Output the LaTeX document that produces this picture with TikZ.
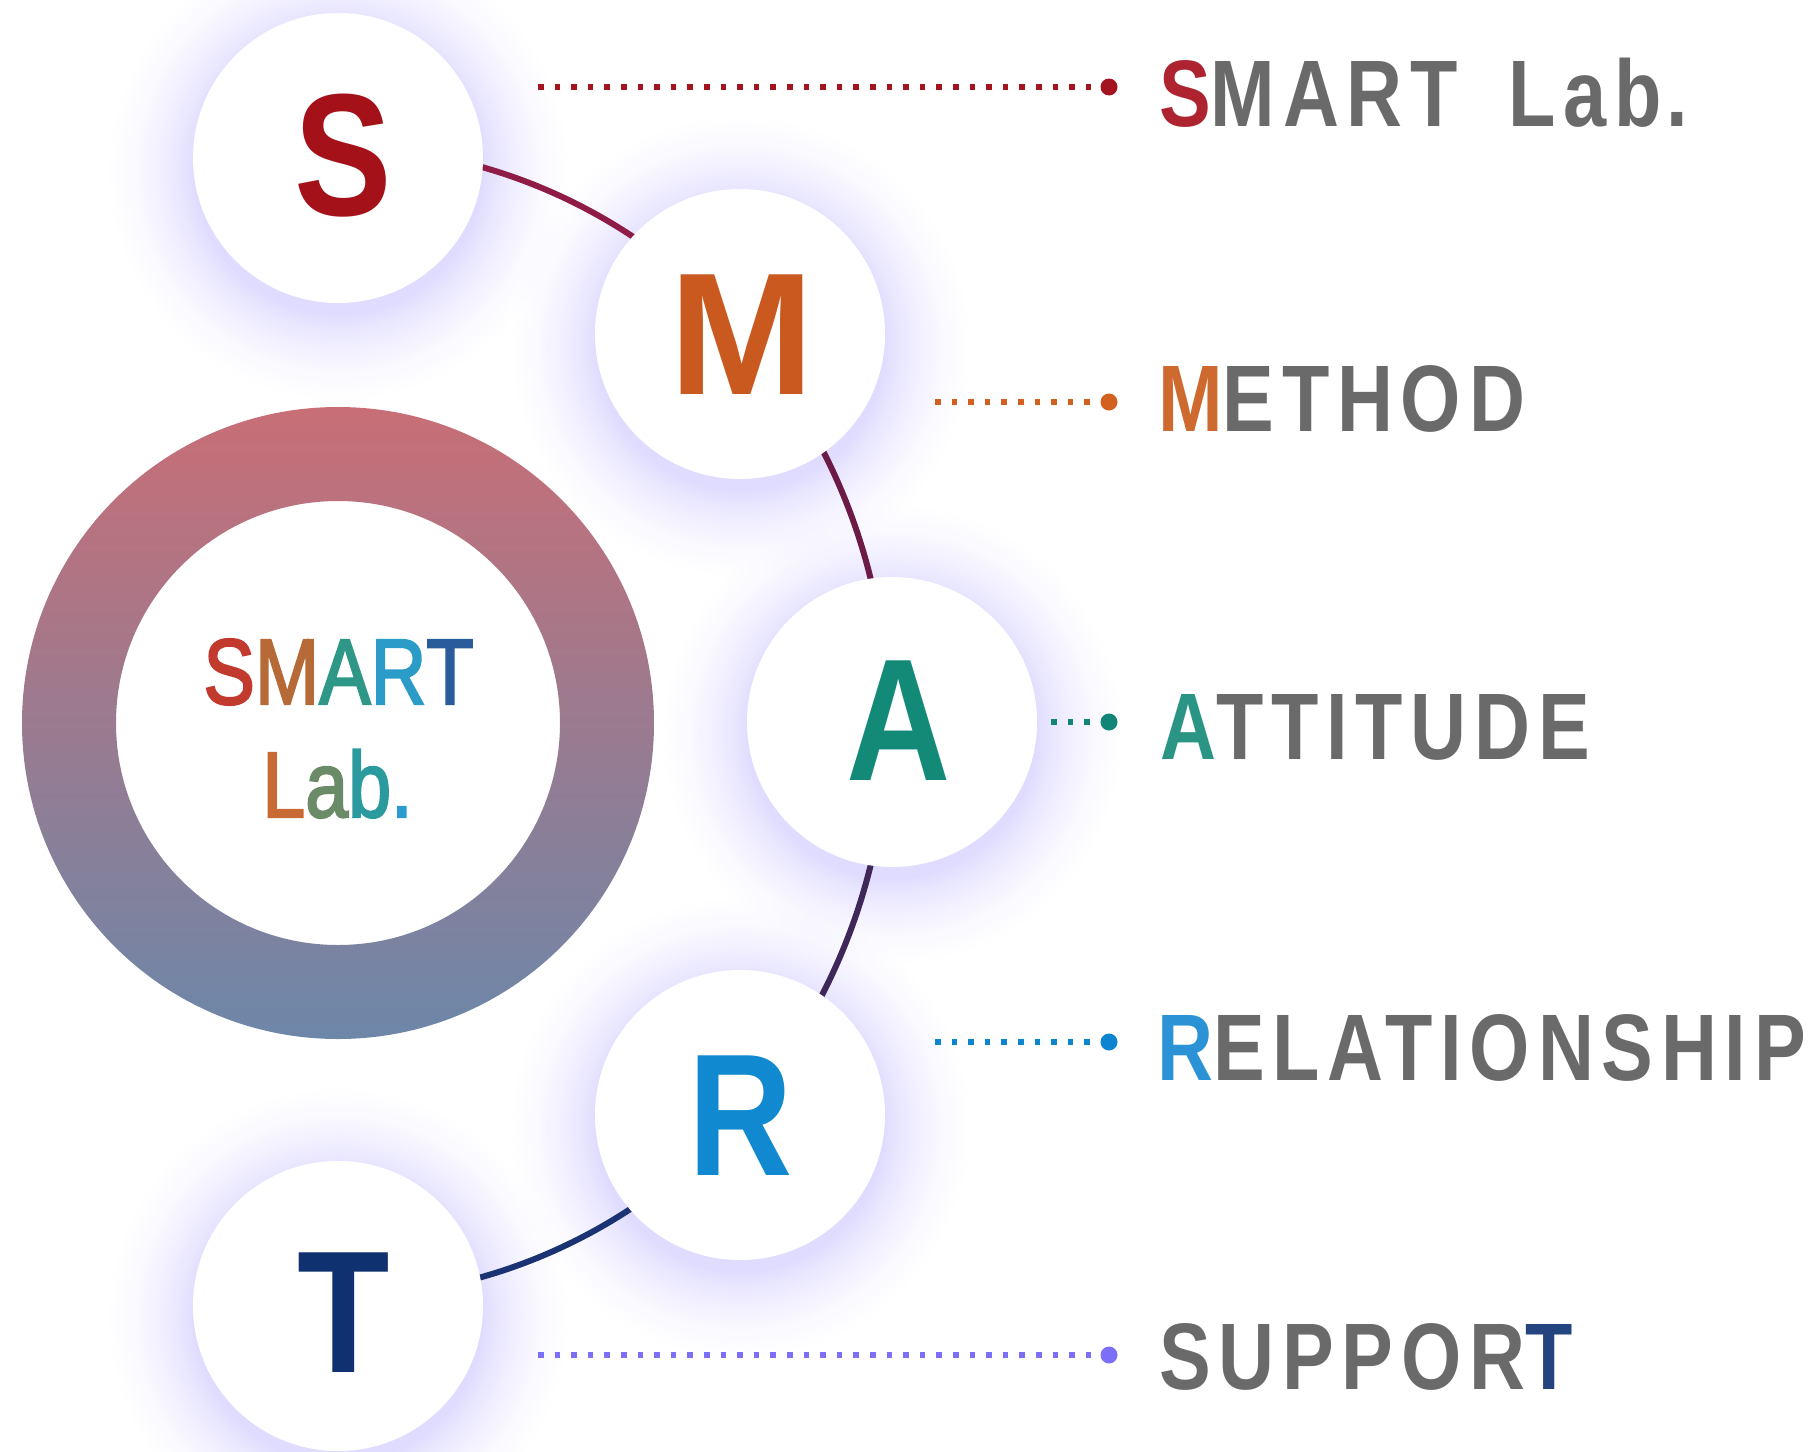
\documentclass[tikz,border=0pt]{standalone}
\usepackage{fontspec}
\usepackage{graphicx}
\usetikzlibrary{fadings}
\setmainfont{Liberation Sans}
\newfontfamily\lblfont[LetterSpace=10]{Liberation Sans}
\newfontfamily\ctrfont[FakeBold=2.5]{Liberation Sans}
\definecolor{ringtop}{HTML}{C86E76}
\definecolor{ringbot}{HTML}{6D87A9}
\definecolor{glowc}{HTML}{E0DCFF}
\colorlet{fadeA}{white!72!black}
\colorlet{fadeB}{white!42!black}
\colorlet{fadeC}{white!16!black}
\definecolor{bigS}{HTML}{A51119}
\definecolor{bigM}{HTML}{C9591E}
\definecolor{bigA}{HTML}{128A77}
\definecolor{bigR}{HTML}{1189D0}
\definecolor{bigT}{HTML}{0F3170}
\definecolor{arcSM}{HTML}{8E1C47}
\definecolor{arcMA}{HTML}{6C1B46}
\definecolor{arcAR}{HTML}{3F2859}
\definecolor{arcRT}{HTML}{1B3372}
\definecolor{lnS}{HTML}{A3141F}
\definecolor{lnM}{HTML}{D2601E}
\definecolor{lnA}{HTML}{128577}
\definecolor{lnR}{HTML}{0C84CF}
\definecolor{lnT}{HTML}{7B6FF7}
\definecolor{fS}{HTML}{AD2430}
\definecolor{fM}{HTML}{CE6A30}
\definecolor{fA}{HTML}{2A9585}
\definecolor{fR}{HTML}{2B93D5}
\definecolor{fT}{HTML}{24447F}
\definecolor{lblgrey}{HTML}{6A6A6A}
\definecolor{cS}{HTML}{C23A2E}
\definecolor{cM}{HTML}{B56A38}
\definecolor{cA}{HTML}{2E9788}
\definecolor{cR}{HTML}{2B9CC8}
\definecolor{cT}{HTML}{2A5C9C}
\definecolor{cL}{HTML}{C96A35}
\definecolor{ca}{HTML}{6B8A68}
\definecolor{cb}{HTML}{2B9A9E}
\definecolor{cdot}{HTML}{2A9CCE}
\pgfdeclareradialshading{glowfadeshade}{\pgfpoint{0bp}{0bp}}{color(0bp)=(white); color(15.6bp)=(white); color(17.2bp)=(fadeA); color(19.5bp)=(fadeB); color(22bp)=(fadeC); color(25bp)=(black); color(50bp)=(black)}
\pgfdeclarefading{glowfade}{\pgfuseshading{glowfadeshade}}
\pgfdeclarelayer{bg}
\pgfsetlayers{bg,main}
\tikzset{
  bigcirc/.style={circle, fill=white, minimum size=290pt, inner sep=0pt},
  bigletter/.style={inner sep=0pt, font=\fontsize{174}{176}\selectfont\bfseries},
  lbl/.style={anchor=base west, inner sep=0pt, text=lblgrey, font=\lblfont\fontsize{94.5}{100}\selectfont\bfseries},
  dotline/.style={line width=5.5pt, dash pattern=on 5.5pt off 11.1pt},
  enddot/.style={circle, inner sep=0pt, minimum size=17pt},
  arcseg/.style={line width=6pt},
  ctext/.style={anchor=base, inner sep=0pt, font=\ctrfont\fontsize{93}{98}\selectfont},
  glow/.style={fill=glowc, path fading=glowfade},
  ellarc/.style={x radius=550pt, y radius=575pt}
}
\begin{document}
\begin{tikzpicture}[x=1pt,y=-1pt]
\useasboundingbox (0,0) rectangle (1814,1451);
% circles
\node[bigcirc] (S) at (338,158) {};
\node[bigcirc] (M) at (740,334) {};
\node[bigcirc] (A) at (892,722) {};
\node[bigcirc] (R) at (740,1115) {};
\node[bigcirc] (T) at (338,1306) {};
\coordinate (ec) at (338,722);
\begin{pgfonlayer}{bg}
  \foreach \c in {S,M,A,R,T} {\fill[glow] ([yshift=-12pt]\c.center) circle (230pt);}
  \draw[arcseg, draw=arcSM] (ec) ++(90:550pt and 575pt) arc[start angle=90, end angle=42.7, ellarc];
  \draw[arcseg, draw=arcMA] (ec) ++(42.7:550pt and 575pt) arc[start angle=42.7, end angle=0, ellarc];
  \draw[arcseg, draw=arcAR] (ec) ++(0:550pt and 575pt) arc[start angle=0, end angle=-42.7, ellarc];
  \draw[arcseg, draw=arcRT] (ec) ++(-42.7:550pt and 575pt) arc[start angle=-42.7, end angle=-90, ellarc];
\end{pgfonlayer}
% letters
\node[bigletter, text=bigS] (lS) at (343,156) {\scalebox{0.84}[1]{S}};
\node[bigletter, text=bigM] (lM) at (742,335) {\scalebox{1.0}[1]{M}};
\node[bigletter, text=bigA] (lA) at (899,721) {\scalebox{0.83}[1]{A}};
\node[bigletter, text=bigR] (lR) at (741,1116) {\scalebox{0.83}[1]{R}};
\node[bigletter, text=bigT] (lT) at (344,1313) {\scalebox{0.87}[1]{T}};
% ring
\coordinate (rc) at (338,723);
\shade[top color=ringtop, bottom color=ringbot, even odd rule] (rc) circle (316pt) (rc) circle (222pt);
\node[ctext] (ct1) at (338.5,704) {\scalebox{0.83}[1]{\textcolor{cS}{S}\textcolor{cM}{M}\textcolor{cA}{A}\textcolor{cR}{R}\textcolor{cT}{T}}};
\node[ctext] (ct2) at (337.5,817) {\scalebox{0.83}[1]{\textcolor{cL}{L}\textcolor{ca}{a}\textcolor{cb}{b}\textcolor{cdot}{.}}};
% dotted leaders
\coordinate (sS) at (538,87);
\coordinate (sM) at (935,402);
\coordinate (sA) at (1051,722);
\coordinate (sR) at (935,1042);
\coordinate (sT) at (538,1355);
\node[enddot, fill=lnS] (dS) at (1109,87) {};
\node[enddot, fill=lnM] (dM) at (1109,402) {};
\node[enddot, fill=lnA] (dA) at (1109,722) {};
\node[enddot, fill=lnR] (dR) at (1109,1042) {};
\node[enddot, fill=lnT] (dT) at (1109,1355) {};
\draw[dotline, draw=lnS] (sS) -- (dS);
\draw[dotline, draw=lnM] (sM) -- (dM);
\draw[dotline, draw=lnA] (sA) -- (dA);
\draw[dotline, draw=lnR] (sR) -- (dR);
\draw[dotline, draw=lnT] (sT) -- (dT);
% labels
\node[lbl] (tS) at (1159,126) {\scalebox{0.82}[1]{\textcolor{fS}{S}MART\kern26pt{} Lab\kern6pt{}.}};
\node[lbl] (tM) at (1158,431) {\scalebox{0.82}[1]{\textcolor{fM}{M}ETHOD}};
\node[lbl] (tA) at (1160,759) {\scalebox{0.82}[1]{\textcolor{fA}{A}TTITUDE}};
\node[lbl] (tR) at (1157,1080) {\scalebox{0.82}[1]{\textcolor{fR}{R}ELATIONSHIP}};
\node[lbl] (tT) at (1159,1389) {\scalebox{0.82}[1]{SUPPOR\textcolor{fT}{T}}};
\end{tikzpicture}
\end{document}
